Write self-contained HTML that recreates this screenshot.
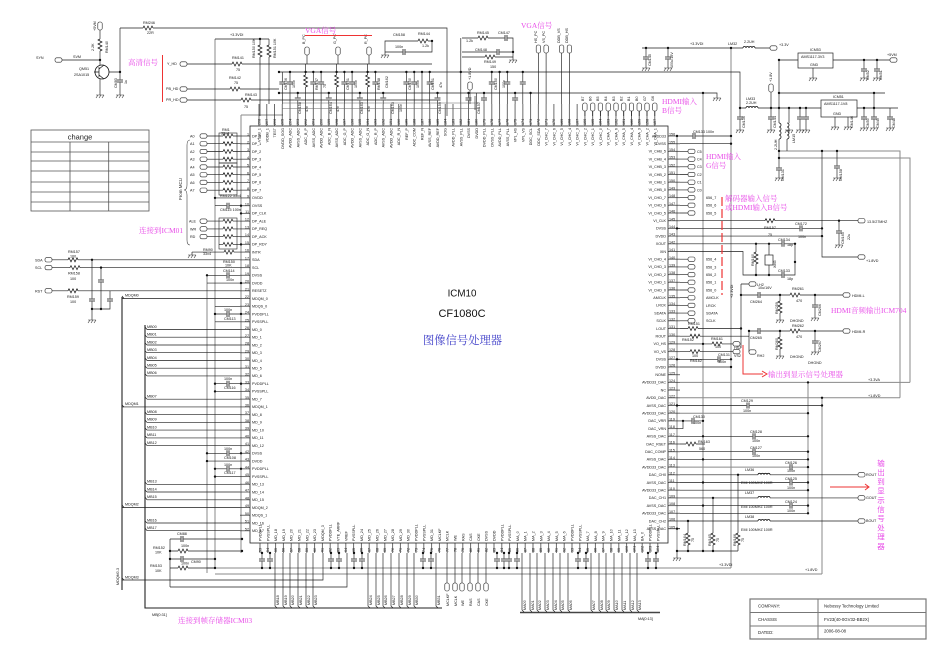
<!DOCTYPE html>
<html><head><meta charset="utf-8">
<style>
html,body{margin:0;padding:0;background:#fff;width:950px;height:665px;overflow:hidden}
svg{display:block}
text{font-family:"Liberation Sans","Noto Sans CJK SC",sans-serif}
.s{font-size:3.7px;fill:#151515}
.m{font-size:4.3px;fill:#222}
.pk{font-family:"Liberation Serif","Noto Serif CJK SC",serif;font-size:7.5px;fill:#e84ee8}
g.w{stroke:#1c1c1c;stroke-width:.65px}
</style></head><body>
<svg width="950" height="665" viewBox="0 0 950 665" xmlns="http://www.w3.org/2000/svg">
<defs>
<pattern id="pL" patternUnits="userSpaceOnUse" x="0" y="132.13" width="10" height="7.74"><path d="M0 3.87H10" stroke="#1c1c1c" stroke-width=".65"/></pattern>
<pattern id="pT" patternUnits="userSpaceOnUse" x="255.12" y="104" width="7.76" height="22"><path d="M3.88 0V22" stroke="#1c1c1c" stroke-width=".65"/></pattern>
<pattern id="pR" patternUnits="userSpaceOnUse" x="668" y="132.15" width="12" height="7.7"><path d="M0 3.85H12" stroke="#1c1c1c" stroke-width=".65"/></pattern>
<pattern id="pB" patternUnits="userSpaceOnUse" x="256.1" y="543" width="7.8" height="10"><path d="M3.9 0V10" stroke="#1c1c1c" stroke-width=".65"/></pattern>
<g id="rh"><rect x="0" y="-2.5" width="10" height="5" fill="#fff"/><path d="M0 0l1-2 2 4 2-4 2 4 2-4 1 2" fill="none" stroke="#111" stroke-width=".7"/></g>
<g id="rv"><rect x="-2.5" y="0" width="5" height="12" fill="#fff"/><path d="M0 0l-2 1 4 2-4 2 4 2-4 2 4 2-2 1" fill="none" stroke="#111" stroke-width=".7"/></g>
<g id="ch"><rect x="-.6" y="-3" width="3.2" height="6" fill="#fff"/><path d="M0-3v6M2-3v6" stroke="#111" stroke-width=".8"/></g>
<g id="cv"><rect x="-3" y="-.6" width="6" height="3.2" fill="#fff"/><path d="M-3 0h6M-3 2h6" stroke="#111" stroke-width=".8"/></g>
<g id="lh"><rect x="0" y="-3" width="12" height="4" fill="#fff"/><path d="M0 0a1.5 1.5 0 0 1 3 0a1.5 1.5 0 0 1 3 0a1.5 1.5 0 0 1 3 0a1.5 1.5 0 0 1 3 0" fill="none" stroke="#111" stroke-width=".8"/></g>
<g id="lv"><rect x="-1" y="0" width="4" height="16" fill="#fff"/><path d="M0 0a2 2 0 0 1 0 4a2 2 0 0 1 0 4a2 2 0 0 1 0 4a2 2 0 0 1 0 4" fill="none" stroke="#111" stroke-width=".8"/></g>
<path id="gd" d="M-4 0h8M-2 0l-2 3M1 0l-2 3M4 0l-2 3" fill="none" stroke="#333" stroke-width=".6"/>
<rect id="pt" x="0" y="-2.2" width="7" height="4.4" rx="1.8" fill="#fff" stroke="#222" stroke-width=".6"/>
<rect id="pu" x="-2.2" y="0" width="4.4" height="8" rx="1.8" fill="#fff" stroke="#222" stroke-width=".6"/>
<circle id="d" r="1.2" fill="#111"/>
</defs>

<!-- change table -->
<rect x="31" y="130" width="118" height="81" fill="none" stroke="#555" stroke-width=".8"/>
<path d="M31 142H149M31 152H149M31 161H149M31 171H149M31 182H149M31 192H149M31 202H149M70 142V211M108.7 142V211" stroke="#555" stroke-width=".8" fill="none"/>
<text x="80" y="139.5" text-anchor="middle" style="font-size:7.5px;fill:#222">change</text>

<!-- title block -->
<rect x="750" y="599" width="176" height="40" fill="none" stroke="#777" stroke-width="1.2"/>
<path d="M750 612.5H926M750 626H926M818 599V639" stroke="#777" stroke-width="1" fill="none"/>
<text class="m" x="758" y="607.5">COMPANY:</text>
<text class="m" x="824" y="607.5">Nebossy Technology Limited</text>
<text class="m" x="758" y="621">CHASSIS</text>
<text class="m" x="824" y="621">FV23(40-0GV32-BB2X)</text>
<text class="m" x="758" y="634">DATED:</text>
<text class="m" x="824" y="632.5">2006-08-08</text>

<!-- gray power lines -->
<g stroke="#8a8a8a" stroke-width="1" fill="none">
<path d="M215 39V568M207 275V573M241 115V553M241 115H283M207 568H731M215 574H822M677 136V551M703 93V551M731 48V568M779 151H900V397.8M779 158H910V382.4M680 382.4H910M680 397.8H900M808 382.4V513.3M822 397.8V574M680 413.2H808M680 467.1H808"/>
</g>

<!-- buses -->
<path d="M122 297V590M145 325V608H442" stroke="#222" stroke-width="1.1" fill="none"/>
<path d="M520 612.5H660" stroke="#444" stroke-width="1.4" fill="none"/>

<!-- chip -->
<rect x="250" y="126" width="418" height="417" fill="none" stroke="#222" stroke-width=".8"/>
<rect x="240" y="132.13" width="10" height="402.5" fill="url(#pL)"/>
<rect x="255.12" y="104" width="403.5" height="22" fill="url(#pT)"/>
<rect x="668" y="132.15" width="12" height="400.4" fill="url(#pR)"/>
<rect x="256.1" y="543" width="405.6" height="10" fill="url(#pB)"/>

<!-- main wires -->
<g class="w" stroke="#1c1c1c" stroke-width=".65" fill="none">
<path d="M62 60H100M100 30V65M109 72H120M100 79V95M120 28V95M120 28H447V116M187 64H432M187 89H279M187 100H440M215 39H269M260 39V116M269 39V104"/>
<path d="M207 136H240M207 143.7H240M207 151.5H240M207 159.2H240M207 167H240M207 174.7H240M207 182.4H240M207 190.2H240M215 197.9H240M215 205.7H240M207 221.1H240M207 228.9H240M207 236.6H240M219 244.4H240M192 252.1H240M192 252V255M52 259.8H240M52 267.6H240M207 275.3H240M207 283.1H240M52 290.8H240M122 298.5H240M215 306.3H240M215 314H240M215 321.8H240"/>
<path d="M92 259.8V309H110V290.8M101 267.6V309M92 309V320"/>
<path d="M147 329.5H240M147 337.2H240M147 345H240M147 352.7H240M147 360.5H240M147 368.2H240M147 375.9H240M215 383.7H240M215 391.4H240M147 399.2H240M122 406.9H240M147 414.6H240M147 422.4H240M147 430.1H240M147 437.9H240M147 445.6H240M207 453.3H240M207 461.1H240M215 468.8H240M215 476.6H240M147 484.3H240M147 492H240M147 499.8H240M122 507.5H240M147 523H240M147 530.7H240"/>
<path d="M145 327l2 2.5M145 335l2 2.2M145 343l2 2M145 351l2 1.7M145 358l2 2.5M145 366l2 2.2M145 374l2 1.9M145 397l2 2.2M145 412l2 2.6M145 420l2 2.4M145 428l2 2.1M145 436l2 1.9M145 443l2 2.6M145 482l2 2.3M145 490l2 2M145 497l2 2.8M145 521l2 2M145 528l2 2.7M122 296l2 2.5M122 405l2 2M122 505l2 2.5M122 578l2 2"/>
<path d="M170 539V587M170 539H242M170 551H242M170 559H215M170 568H215M170 587H347V553M122 580H323V553"/>
<!-- bottom pins -->
<path d="M262 553V568M270 553V568M331 553V568M339 553V568M354 553V568M362 553V568M423 553V568M431 553V568M497 553V568M504 553V568M509 553V568M517 553V568M578 553V568M586 553V568M648 553V568M656 553V568"/>
<path d="M275 553V606l2 2M283 553V606l2 2M290 553V606l2 2M298 553V606l2 2M306 553V606l2 2M313 553V606l2 2M368 553V606l2 2M376 553V606l2 2M383 553V606l2 2M391 553V606l2 2M399 553V606l2 2M407 553V606l2 2M414 553V606l2 2M436 553V606l2 2"/>
<path d="M447 553V583M455 553V583M462 553V583M470 553V583M478 553V583M486 553V583"/>
<path d="M522 553V610l2 2M530 553V610l2 2M537 553V610l2 2M545 553V610l2 2M553 553V610l2 2M560 553V610l2 2M568 553V610l2 2M591 553V610l2 2M599 553V610l2 2M606 553V610l2 2M614 553V610l2 2M622 553V610l2 2M630 553V610l2 2M637 553V610l2 2"/>
<!-- top network -->
<path d="M279 72H740V108M279 93H717V98M282.3 72V104M290 72V104M313.3 72V104M321.1 72V104M344.4 72V104M352.1 72V104M375.4 72V104M406.4 72V104M414.2 72V104M422 72V104M429.7 72V104M460.8 38V104M491.8 72V104M499.6 72V104M507.3 72V104M522.8 72V104M297.8 93V104M328.8 93V104M359.9 93V104M383.2 93V104M437.5 93V104M468.5 93V104M476.3 93V104M484 93V104M515.1 93V104M530.6 93V104"/>
<path d="M307 55V64M305.6 64V104M338 55V64M336.6 64V104M369 55V64M367.6 64V104M538.4 53V104M546.1 53V104M561.6 53V104M569.4 53V104"/>
<path d="M282 103H480M282 108.5H480" stroke="#666" stroke-width=".5"/>
<path d="M385 55V41H432V52H385M462 38H513V60M462 52H513M462 57H513"/>
<path d="M584.9 110V116M592.7 110V116M600.4 110V116M608.2 110V116M616 110V116M623.7 110V116M631.5 110V116M639.2 110V116M647 110V116M654.8 110V116"/>
<path d="M642 48H770M646 48V68M668 48V68"/>
<path d="M740 108H821M740 108V130M771 92V130M779 60V178M789 108V130M800 108V130M806 108V130M787 123V151"/>
<path d="M779 60H798M833 60H890M864 60V78M877 60V78M813 68V78M779 93H885M874 93V128M857 108H898M864 108V128M890 108V128M835 117V127M848 117V127"/>
<path d="M822 151V257H858M837 151V178M839 220.7V245"/>
<!-- right pins -->
<path d="M680 136H731M680 143.7H731M680 151.4H688M680 159.1H688M680 166.8H688M680 174.5H688M680 182.2H688M680 189.9H688M680 197.6H688M680 205.3H688M680 213H688M680 220.7H858M677 228.4H822M680 236.1H822M680 243.8H795M680 251.5H743V275H795V243.8M756 243.8V275M769 243.8V255M769 265V275"/>
<path d="M680 259.2H688M680 266.9H688M680 274.6H688M680 282.3H688M680 290H688M680 297.7H688M680 305.4H688M680 313.1H688M680 320.8H688M680 328.5H741M680 336.2H749M680 343.9H733M680 351.6H733M677 359.3H731M680 367H731"/>
<path d="M741 284H749M741 284V348M749 331V352M741 295H843M780 295V320M815 295V318M749 331H843M780 331V356M815 331V352"/>
<path d="M677 405.5H822M680 420.9H703M680 428.6H683V420.9M680 436.3H808M680 444H705M680 451.7H808M680 459.4H808M680 474.8H858M680 482.5H808M680 490.2H808M680 497.9H858M680 505.6H808M680 513.3H808M680 521H858M677 528.7H680"/>
<path d="M688 521V551M713 497.9V551M738 474.8V551M677 551H738M677 551V558"/>
</g>

<!-- transistor -->
<circle cx="102" cy="72" r="7" fill="#fff" stroke="#111" stroke-width=".8"/>
<path d="M99 67V77M99 72H94M99 69l5-4M99 75l5 4" stroke="#111" stroke-width=".7" fill="none"/>

<!-- resistor arrays -->
<g fill="none" stroke="#222" stroke-width=".6">
<rect x="219" y="133" width="18" height="30"/><rect x="219" y="163" width="18" height="32"/><rect x="219" y="218" width="18" height="31"/>
</g>
<g>
<use href="#rh" x="223" y="136"/><use href="#rh" x="223" y="143.7"/><use href="#rh" x="223" y="151.5"/><use href="#rh" x="223" y="159.2"/><use href="#rh" x="223" y="167"/><use href="#rh" x="223" y="174.7"/><use href="#rh" x="223" y="182.4"/><use href="#rh" x="223" y="190.2"/>
<use href="#rh" x="223" y="221.1"/><use href="#rh" x="223" y="228.9"/><use href="#rh" x="223" y="236.6"/><use href="#rh" x="223" y="244.4"/>
<use href="#rh" x="224" y="252.1"/><use href="#rh" x="68" y="259.8"/><use href="#rh" x="70" y="267.6"/><use href="#rh" x="68" y="290.8"/>
<use href="#rh" x="143" y="28"/><use href="#rh" x="232" y="64"/><use href="#rh" x="230" y="89"/><use href="#rh" x="241" y="100"/>
<use href="#rh" x="178" y="551"/><use href="#rh" x="178" y="568"/>
<use href="#rh" x="418" y="41"/><use href="#rh" x="478" y="38"/><use href="#rh" x="485" y="57"/>
<use href="#rh" x="765" y="220.7"/><use href="#rh" x="688" y="328.5"/><use href="#rh" x="690" y="336.2"/><use href="#rh" x="712" y="343.9"/><use href="#rh" x="690" y="351.6"/><use href="#rh" x="686" y="444"/>
<use href="#rh" x="790" y="295"/><use href="#rh" x="790" y="331"/>
<use href="#rv" x="100" y="39"/><use href="#rv" x="260" y="45"/><use href="#rv" x="269" y="45"/>
<use href="#rv" x="305.6" y="75"/><use href="#rv" x="336.6" y="75"/><use href="#rv" x="367.6" y="75"/>
<use href="#rv" x="756" y="252"/><use href="#rv" x="780" y="301"/><use href="#rv" x="780" y="337"/>
<use href="#rv" x="688" y="533"/><use href="#rv" x="713" y="533"/><use href="#rv" x="738" y="533"/>
<use href="#ch" x="227" y="205.7"/><use href="#ch" x="227" y="275.3"/><use href="#ch" x="227" y="314"/><use href="#ch" x="227" y="383.7"/><use href="#ch" x="227" y="453.3"/><use href="#ch" x="227" y="468.8"/>
<use href="#ch" x="181" y="539"/><use href="#ch" x="181" y="559"/>
<use href="#ch" x="403" y="52"/><use href="#ch" x="505" y="38"/><use href="#ch" x="497" y="52"/>
<use href="#ch" x="693" y="136"/><use href="#ch" x="800" y="228.4"/><use href="#ch" x="782" y="243.8"/><use href="#ch" x="782" y="275"/>
<use href="#ch" x="718" y="359.3"/><use href="#ch" x="747" y="405.5"/><use href="#ch" x="692" y="420.9"/><use href="#ch" x="753" y="436.3"/><use href="#ch" x="753" y="451.7"/><use href="#ch" x="790" y="467.1"/><use href="#ch" x="790" y="482.5"/><use href="#ch" x="790" y="505.6"/>
<use href="#ch" x="758" y="295"/><use href="#ch" x="758" y="331"/>
<use href="#cv" x="120" y="80"/><use href="#cv" x="92" y="299"/><use href="#cv" x="101" y="280"/><use href="#cv" x="110" y="299"/>
<use href="#cv" x="282.3" y="82"/><use href="#cv" x="290" y="82"/><use href="#cv" x="313.3" y="82"/><use href="#cv" x="321.1" y="82"/><use href="#cv" x="344.4" y="82"/><use href="#cv" x="352.1" y="82"/><use href="#cv" x="375.4" y="82"/><use href="#cv" x="406.4" y="82"/><use href="#cv" x="414.2" y="82"/><use href="#cv" x="429.7" y="82"/><use href="#cv" x="491.8" y="82"/><use href="#cv" x="507.3" y="82"/><use href="#cv" x="522.8" y="82"/>
<use href="#cv" x="297.8" y="98"/><use href="#cv" x="328.8" y="98"/><use href="#cv" x="359.9" y="98"/><use href="#cv" x="383.2" y="98"/><use href="#cv" x="437.5" y="98"/><use href="#cv" x="468.5" y="98"/><use href="#cv" x="484" y="98"/><use href="#cv" x="515.1" y="98"/>
<use href="#cv" x="646" y="57"/><use href="#cv" x="668" y="57"/>
<use href="#cv" x="740" y="117"/><use href="#cv" x="771" y="117"/><use href="#cv" x="800" y="117"/><use href="#cv" x="806" y="117"/>
<use href="#cv" x="864" y="69"/><use href="#cv" x="877" y="69"/><use href="#cv" x="864" y="117"/><use href="#cv" x="874" y="117"/><use href="#cv" x="890" y="117"/>
<use href="#cv" x="779" y="168"/><use href="#cv" x="837" y="166"/><use href="#cv" x="839" y="231"/><use href="#cv" x="815" y="305"/><use href="#cv" x="815" y="341"/>
<use href="#cv" x="262" y="559"/><use href="#cv" x="270" y="559"/><use href="#cv" x="331" y="559"/><use href="#cv" x="339" y="559"/><use href="#cv" x="354" y="559"/><use href="#cv" x="362" y="559"/><use href="#cv" x="423" y="559"/><use href="#cv" x="431" y="559"/><use href="#cv" x="497" y="559"/><use href="#cv" x="504" y="559"/><use href="#cv" x="509" y="559"/><use href="#cv" x="517" y="559"/><use href="#cv" x="578" y="559"/><use href="#cv" x="586" y="559"/><use href="#cv" x="648" y="559"/><use href="#cv" x="656" y="559"/>
<use href="#lh" x="743" y="48"/><use href="#lh" x="746" y="108"/><use href="#lh" x="758" y="474.8"/><use href="#lh" x="758" y="497.9"/><use href="#lh" x="758" y="521"/>
<use href="#lv" x="779" y="123"/><use href="#lv" x="787" y="123"/>
<use href="#gd" x="100" y="95"/><use href="#gd" x="120" y="95"/><use href="#gd" x="192" y="255"/><use href="#gd" x="92" y="320"/><use href="#gd" x="385" y="55"/><use href="#gd" x="513" y="60"/><use href="#gd" x="717" y="98"/>
<use href="#gd" x="646" y="68"/><use href="#gd" x="668" y="68"/><use href="#gd" x="740" y="130"/><use href="#gd" x="771" y="130"/><use href="#gd" x="789" y="130"/><use href="#gd" x="800" y="130"/><use href="#gd" x="806" y="130"/>
<use href="#gd" x="864" y="78"/><use href="#gd" x="877" y="78"/><use href="#gd" x="813" y="78"/><use href="#gd" x="864" y="128"/><use href="#gd" x="874" y="128"/><use href="#gd" x="890" y="128"/><use href="#gd" x="835" y="127"/><use href="#gd" x="848" y="127"/>
<use href="#gd" x="779" y="178"/><use href="#gd" x="837" y="178"/><use href="#gd" x="839" y="245"/><use href="#gd" x="780" y="320"/><use href="#gd" x="815" y="318"/><use href="#gd" x="780" y="356"/><use href="#gd" x="815" y="352"/><use href="#gd" x="677" y="558"/>
<use href="#pt" x="55" y="60"/><use href="#pt" x="180" y="64"/><use href="#pt" x="180" y="89"/><use href="#pt" x="180" y="100"/>
<use href="#pt" x="200" y="136"/><use href="#pt" x="200" y="143.7"/><use href="#pt" x="200" y="151.5"/><use href="#pt" x="200" y="159.2"/><use href="#pt" x="200" y="167"/><use href="#pt" x="200" y="174.7"/><use href="#pt" x="200" y="182.4"/><use href="#pt" x="200" y="190.2"/>
<use href="#pt" x="200" y="221.1"/><use href="#pt" x="200" y="228.9"/><use href="#pt" x="200" y="236.6"/>
<use href="#pt" x="45" y="259.8"/><use href="#pt" x="45" y="267.6"/><use href="#pt" x="45" y="290.8"/>
<use href="#pt" x="688" y="151.4"/><use href="#pt" x="688" y="159.1"/><use href="#pt" x="688" y="166.8"/><use href="#pt" x="688" y="174.5"/><use href="#pt" x="688" y="182.2"/><use href="#pt" x="688" y="189.9"/><use href="#pt" x="688" y="197.6"/><use href="#pt" x="688" y="205.3"/><use href="#pt" x="688" y="213"/>
<use href="#pt" x="688" y="259.2"/><use href="#pt" x="688" y="266.9"/><use href="#pt" x="688" y="274.6"/><use href="#pt" x="688" y="282.3"/><use href="#pt" x="688" y="290"/><use href="#pt" x="688" y="297.7"/><use href="#pt" x="688" y="305.4"/><use href="#pt" x="688" y="313.1"/><use href="#pt" x="688" y="320.8"/>
<use href="#pt" x="858" y="220.7"/><use href="#pt" x="858" y="257"/><use href="#pt" x="749" y="284"/><use href="#pt" x="733" y="343.9"/><use href="#pt" x="733" y="351.6"/><use href="#pt" x="843" y="295"/><use href="#pt" x="843" y="331"/><use href="#pt" x="749" y="352"/>
<use href="#pt" x="858" y="474.8"/><use href="#pt" x="858" y="497.9"/><use href="#pt" x="858" y="521"/><use href="#pt" x="770" y="48"/><use href="#pt" x="890" y="60"/>
<use href="#pu" x="100" y="22"/><use href="#pu" x="307" y="47"/><use href="#pu" x="338" y="47"/><use href="#pu" x="369" y="47"/><use href="#pu" x="538.4" y="45"/><use href="#pu" x="546.1" y="45"/><use href="#pu" x="561.6" y="45"/><use href="#pu" x="569.4" y="45"/><use href="#pu" x="470" y="82"/><use href="#pu" x="771" y="84"/>
<use href="#pu" x="584.9" y="103"/><use href="#pu" x="592.7" y="103"/><use href="#pu" x="600.4" y="103"/><use href="#pu" x="608.2" y="103"/><use href="#pu" x="616" y="103"/><use href="#pu" x="623.7" y="103"/><use href="#pu" x="631.5" y="103"/><use href="#pu" x="639.2" y="103"/><use href="#pu" x="647" y="103"/><use href="#pu" x="654.8" y="103"/>
<use href="#pu" x="447" y="583"/><use href="#pu" x="455" y="583"/><use href="#pu" x="462" y="583"/><use href="#pu" x="470" y="583"/><use href="#pu" x="478" y="583"/><use href="#pu" x="486" y="583"/>
</g>
<path d="M470 90V104M475 96V110" stroke="#222" stroke-width=".6"/>

<!-- regulators and crystal -->
<g fill="#fff" stroke="#222" stroke-width=".7">
<rect x="798" y="53" width="35" height="15"/><rect x="821" y="100" width="36" height="17"/><rect x="765" y="255" width="8" height="10"/>
</g>
<text class="s" x="801" y="58">AMS1117-3V3</text><text class="s" x="810" y="51">ICM53</text><text class="s" x="810" y="66">GND</text>
<text class="s" x="824" y="105">AMS1117-1V8</text><text class="s" x="833" y="98">ICM51</text><text class="s" x="833" y="115">GND</text>

<!-- dots -->
<g>
<use href="#d" x="100" y="60"/><use href="#d" x="120" y="72"/><use href="#d" x="260" y="39"/><use href="#d" x="215" y="197.9"/><use href="#d" x="241" y="205.7"/><use href="#d" x="241" y="213.4"/><use href="#d" x="241" y="244.4"/><use href="#d" x="92" y="259.8"/><use href="#d" x="101" y="267.6"/><use href="#d" x="92" y="309"/><use href="#d" x="101" y="309"/>
<use href="#d" x="207" y="275.3"/><use href="#d" x="241" y="283.1"/><use href="#d" x="215" y="314"/><use href="#d" x="241" y="314"/><use href="#d" x="215" y="383.7"/><use href="#d" x="241" y="383.7"/><use href="#d" x="215" y="391.4"/><use href="#d" x="207" y="453.3"/><use href="#d" x="241" y="453.3"/><use href="#d" x="207" y="461.1"/><use href="#d" x="215" y="468.8"/><use href="#d" x="241" y="468.8"/><use href="#d" x="215" y="476.6"/>
<use href="#d" x="242" y="539"/><use href="#d" x="170" y="551"/><use href="#d" x="242" y="551"/><use href="#d" x="170" y="559"/><use href="#d" x="215" y="559"/><use href="#d" x="215" y="568"/>
<use href="#d" x="279" y="72"/><use href="#d" x="290" y="72"/><use href="#d" x="305.6" y="72"/><use href="#d" x="313.3" y="72"/><use href="#d" x="321.1" y="72"/><use href="#d" x="336.6" y="72"/><use href="#d" x="344.4" y="72"/><use href="#d" x="352.1" y="72"/><use href="#d" x="367.6" y="72"/><use href="#d" x="375.4" y="72"/><use href="#d" x="406.4" y="72"/><use href="#d" x="414.2" y="72"/><use href="#d" x="422" y="72"/><use href="#d" x="429.7" y="72"/><use href="#d" x="460.8" y="72"/><use href="#d" x="491.8" y="72"/><use href="#d" x="499.6" y="72"/><use href="#d" x="507.3" y="72"/><use href="#d" x="522.8" y="72"/><use href="#d" x="432" y="41"/><use href="#d" x="513" y="52"/>
<use href="#d" x="279" y="93"/><use href="#d" x="297.8" y="93"/><use href="#d" x="328.8" y="93"/><use href="#d" x="359.9" y="93"/><use href="#d" x="383.2" y="93"/><use href="#d" x="437.5" y="93"/><use href="#d" x="468.5" y="93"/><use href="#d" x="484" y="93"/><use href="#d" x="515.1" y="93"/><use href="#d" x="530.6" y="93"/><use href="#d" x="703" y="93"/>
<use href="#d" x="731" y="48"/><use href="#d" x="646" y="48"/><use href="#d" x="668" y="48"/><use href="#d" x="740" y="108"/><use href="#d" x="771" y="108"/><use href="#d" x="779" y="108"/><use href="#d" x="789" y="108"/><use href="#d" x="800" y="108"/><use href="#d" x="806" y="108"/><use href="#d" x="779" y="60"/><use href="#d" x="864" y="60"/><use href="#d" x="877" y="60"/><use href="#d" x="779" y="93"/><use href="#d" x="874" y="93"/><use href="#d" x="864" y="108"/><use href="#d" x="874" y="108"/>
<use href="#d" x="779" y="151"/><use href="#d" x="779" y="158"/><use href="#d" x="822" y="151"/><use href="#d" x="837" y="151"/>
<use href="#d" x="677" y="136"/><use href="#d" x="731" y="136"/><use href="#d" x="731" y="143.7"/><use href="#d" x="839" y="220.7"/><use href="#d" x="677" y="228.4"/><use href="#d" x="822" y="228.4"/><use href="#d" x="822" y="236.1"/><use href="#d" x="756" y="243.8"/><use href="#d" x="769" y="243.8"/><use href="#d" x="795" y="243.8"/><use href="#d" x="756" y="275"/><use href="#d" x="769" y="275"/><use href="#d" x="795" y="262"/>
<use href="#d" x="741" y="295"/><use href="#d" x="780" y="295"/><use href="#d" x="815" y="295"/><use href="#d" x="749" y="331"/><use href="#d" x="780" y="331"/><use href="#d" x="815" y="331"/><use href="#d" x="741" y="328.5"/><use href="#d" x="703" y="343.9"/><use href="#d" x="677" y="359.3"/><use href="#d" x="731" y="359.3"/><use href="#d" x="731" y="367"/>
<use href="#d" x="808" y="382.4"/><use href="#d" x="822" y="397.8"/><use href="#d" x="677" y="405.5"/><use href="#d" x="822" y="405.5"/><use href="#d" x="808" y="413.2"/><use href="#d" x="683" y="420.9"/><use href="#d" x="703" y="420.9"/><use href="#d" x="703" y="436.3"/><use href="#d" x="808" y="436.3"/><use href="#d" x="808" y="451.7"/><use href="#d" x="703" y="459.4"/><use href="#d" x="808" y="459.4"/><use href="#d" x="808" y="467.1"/><use href="#d" x="738" y="474.8"/><use href="#d" x="703" y="482.5"/><use href="#d" x="808" y="482.5"/><use href="#d" x="808" y="490.2"/><use href="#d" x="713" y="497.9"/><use href="#d" x="703" y="505.6"/><use href="#d" x="808" y="505.6"/><use href="#d" x="808" y="513.3"/><use href="#d" x="688" y="521"/><use href="#d" x="677" y="528.7"/>
<use href="#d" x="677" y="551"/><use href="#d" x="688" y="551"/><use href="#d" x="703" y="551"/><use href="#d" x="713" y="551"/>
<use href="#d" x="262" y="553"/><use href="#d" x="270" y="553"/><use href="#d" x="262" y="568"/><use href="#d" x="270" y="568"/><use href="#d" x="331" y="553"/><use href="#d" x="339" y="553"/><use href="#d" x="331" y="568"/><use href="#d" x="339" y="568"/><use href="#d" x="354" y="553"/><use href="#d" x="362" y="553"/><use href="#d" x="354" y="568"/><use href="#d" x="362" y="568"/><use href="#d" x="423" y="553"/><use href="#d" x="431" y="553"/><use href="#d" x="423" y="568"/><use href="#d" x="431" y="568"/><use href="#d" x="497" y="553"/><use href="#d" x="504" y="553"/><use href="#d" x="497" y="568"/><use href="#d" x="504" y="568"/><use href="#d" x="509" y="553"/><use href="#d" x="517" y="553"/><use href="#d" x="509" y="568"/><use href="#d" x="517" y="568"/><use href="#d" x="578" y="553"/><use href="#d" x="586" y="553"/><use href="#d" x="578" y="568"/><use href="#d" x="586" y="568"/><use href="#d" x="648" y="553"/><use href="#d" x="656" y="553"/><use href="#d" x="648" y="568"/><use href="#d" x="656" y="568"/>
</g>

<!-- pin numbers left -->
<text class="s" text-anchor="end"><tspan x="249" y="135.6">1</tspan><tspan x="249" dy="7.74">2</tspan><tspan x="249" dy="7.74">3</tspan><tspan x="249" dy="7.74">4</tspan><tspan x="249" dy="7.74">5</tspan><tspan x="249" dy="7.74">6</tspan><tspan x="249" dy="7.74">7</tspan><tspan x="249" dy="7.74">8</tspan><tspan x="249" dy="7.74">9</tspan><tspan x="249" dy="7.74">10</tspan><tspan x="249" dy="7.74">11</tspan><tspan x="249" dy="7.74">12</tspan><tspan x="249" dy="7.74">13</tspan><tspan x="249" dy="7.74">14</tspan><tspan x="249" dy="7.74">15</tspan><tspan x="249" dy="7.74">16</tspan><tspan x="249" dy="7.74">17</tspan><tspan x="249" dy="7.74">18</tspan><tspan x="249" dy="7.74">19</tspan><tspan x="249" dy="7.74">20</tspan><tspan x="249" dy="7.74">21</tspan><tspan x="249" dy="7.74">22</tspan><tspan x="249" dy="7.74">23</tspan><tspan x="249" dy="7.74">24</tspan><tspan x="249" dy="7.74">25</tspan><tspan x="249" dy="7.74">26</tspan><tspan x="249" dy="7.74">27</tspan><tspan x="249" dy="7.74">28</tspan><tspan x="249" dy="7.74">29</tspan><tspan x="249" dy="7.74">30</tspan><tspan x="249" dy="7.74">31</tspan><tspan x="249" dy="7.74">32</tspan><tspan x="249" dy="7.74">33</tspan><tspan x="249" dy="7.74">34</tspan><tspan x="249" dy="7.74">35</tspan><tspan x="249" dy="7.74">36</tspan><tspan x="249" dy="7.74">37</tspan><tspan x="249" dy="7.74">38</tspan><tspan x="249" dy="7.74">39</tspan><tspan x="249" dy="7.74">40</tspan><tspan x="249" dy="7.74">41</tspan><tspan x="249" dy="7.74">42</tspan><tspan x="249" dy="7.74">43</tspan><tspan x="249" dy="7.74">44</tspan><tspan x="249" dy="7.74">45</tspan><tspan x="249" dy="7.74">46</tspan><tspan x="249" dy="7.74">47</tspan><tspan x="249" dy="7.74">48</tspan><tspan x="249" dy="7.74">49</tspan><tspan x="249" dy="7.74">50</tspan><tspan x="249" dy="7.74">51</tspan><tspan x="249" dy="7.74">52</tspan></text>
<!-- left labels -->
<text class="s"><tspan x="252" y="137.3">DP_0</tspan><tspan x="252" dy="7.74">DP_1</tspan><tspan x="252" dy="7.74">DP_2</tspan><tspan x="252" dy="7.74">DP_3</tspan><tspan x="252" dy="7.74">DP_4</tspan><tspan x="252" dy="7.74">DP_5</tspan><tspan x="252" dy="7.74">DP_6</tspan><tspan x="252" dy="7.74">DP_7</tspan><tspan x="252" dy="7.74">OVDD</tspan><tspan x="252" dy="7.74">OVSS</tspan><tspan x="252" dy="7.74">DP_CLK</tspan><tspan x="252" dy="7.74">DP_ALE</tspan><tspan x="252" dy="7.74">DP_REQ</tspan><tspan x="252" dy="7.74">DP_ACK</tspan><tspan x="252" dy="7.74">DP_RDY</tspan><tspan x="252" dy="7.74">INTR</tspan><tspan x="252" dy="7.74">SDA</tspan><tspan x="252" dy="7.74">SCL</tspan><tspan x="252" dy="7.74">DVSS</tspan><tspan x="252" dy="7.74">DVDD</tspan><tspan x="252" dy="7.74">RESETZ</tspan><tspan x="252" dy="7.74">MDQM_0</tspan><tspan x="252" dy="7.74">MDQS_0</tspan><tspan x="252" dy="7.74">PVDDPLL</tspan><tspan x="252" dy="7.74">PVSSPLL</tspan><tspan x="252" dy="7.74">MD_0</tspan><tspan x="252" dy="7.74">MD_1</tspan><tspan x="252" dy="7.74">MD_2</tspan><tspan x="252" dy="7.74">MD_3</tspan><tspan x="252" dy="7.74">MD_4</tspan><tspan x="252" dy="7.74">MD_5</tspan><tspan x="252" dy="7.74">MD_6</tspan><tspan x="252" dy="7.74">PVDDPLL</tspan><tspan x="252" dy="7.74">PVSSPLL</tspan><tspan x="252" dy="7.74">MD_7</tspan><tspan x="252" dy="7.74">MDQM_1</tspan><tspan x="252" dy="7.74">MD_8</tspan><tspan x="252" dy="7.74">MD_9</tspan><tspan x="252" dy="7.74">MD_10</tspan><tspan x="252" dy="7.74">MD_11</tspan><tspan x="252" dy="7.74">MD_12</tspan><tspan x="252" dy="7.74">DVSS</tspan><tspan x="252" dy="7.74">DVDD</tspan><tspan x="252" dy="7.74">PVDDPLL</tspan><tspan x="252" dy="7.74">PVSSPLL</tspan><tspan x="252" dy="7.74">MD_13</tspan><tspan x="252" dy="7.74">MD_14</tspan><tspan x="252" dy="7.74">MD_15</tspan><tspan x="252" dy="7.74">MDQM_2</tspan><tspan x="252" dy="7.74">MDQS_1</tspan><tspan x="252" dy="7.74">MD_16</tspan><tspan x="252" dy="7.74">MD_17</tspan></text>

<!-- right pin numbers -->
<text class="s"><tspan x="669" y="135.6">156</tspan><tspan x="669" dy="7.7">155</tspan><tspan x="669" dy="7.7">154</tspan><tspan x="669" dy="7.7">153</tspan><tspan x="669" dy="7.7">152</tspan><tspan x="669" dy="7.7">151</tspan><tspan x="669" dy="7.7">150</tspan><tspan x="669" dy="7.7">149</tspan><tspan x="669" dy="7.7">148</tspan><tspan x="669" dy="7.7">147</tspan><tspan x="669" dy="7.7">146</tspan><tspan x="669" dy="7.7">145</tspan><tspan x="669" dy="7.7">144</tspan><tspan x="669" dy="7.7">143</tspan><tspan x="669" dy="7.7">142</tspan><tspan x="669" dy="7.7">141</tspan><tspan x="669" dy="7.7">140</tspan><tspan x="669" dy="7.7">139</tspan><tspan x="669" dy="7.7">138</tspan><tspan x="669" dy="7.7">137</tspan><tspan x="669" dy="7.7">136</tspan><tspan x="669" dy="7.7">135</tspan><tspan x="669" dy="7.7">134</tspan><tspan x="669" dy="7.7">133</tspan><tspan x="669" dy="7.7">132</tspan><tspan x="669" dy="7.7">131</tspan><tspan x="669" dy="7.7">130</tspan><tspan x="669" dy="7.7">129</tspan><tspan x="669" dy="7.7">128</tspan><tspan x="669" dy="7.7">127</tspan><tspan x="669" dy="7.7">126</tspan><tspan x="669" dy="7.7">125</tspan><tspan x="669" dy="7.7">124</tspan><tspan x="669" dy="7.7">123</tspan><tspan x="669" dy="7.7">122</tspan><tspan x="669" dy="7.7">121</tspan><tspan x="669" dy="7.7">120</tspan><tspan x="669" dy="7.7">119</tspan><tspan x="669" dy="7.7">118</tspan><tspan x="669" dy="7.7">117</tspan><tspan x="669" dy="7.7">116</tspan><tspan x="669" dy="7.7">115</tspan><tspan x="669" dy="7.7">114</tspan><tspan x="669" dy="7.7">113</tspan><tspan x="669" dy="7.7">112</tspan><tspan x="669" dy="7.7">111</tspan><tspan x="669" dy="7.7">110</tspan><tspan x="669" dy="7.7">109</tspan><tspan x="669" dy="7.7">108</tspan><tspan x="669" dy="7.7">107</tspan><tspan x="669" dy="7.7">106</tspan><tspan x="669" dy="7.7">105</tspan></text>
<!-- right labels -->
<text class="s" text-anchor="end"><tspan x="666" y="137.3">AVDD33</tspan><tspan x="666" dy="7.7">DVSS</tspan><tspan x="666" dy="7.7">VI_CHB_5</tspan><tspan x="666" dy="7.7">VI_CHB_4</tspan><tspan x="666" dy="7.7">VI_CHB_3</tspan><tspan x="666" dy="7.7">VI_CHB_2</tspan><tspan x="666" dy="7.7">VI_CHB_1</tspan><tspan x="666" dy="7.7">VI_CHB_0</tspan><tspan x="666" dy="7.7">VI_CHD_7</tspan><tspan x="666" dy="7.7">VI_CHD_6</tspan><tspan x="666" dy="7.7">VI_CHD_5</tspan><tspan x="666" dy="7.7">VI_CLK</tspan><tspan x="666" dy="7.7">DVSS</tspan><tspan x="666" dy="7.7">DVDD</tspan><tspan x="666" dy="7.7">XOUT</tspan><tspan x="666" dy="7.7">XIN</tspan><tspan x="666" dy="7.7">VI_CHD_4</tspan><tspan x="666" dy="7.7">VI_CHD_3</tspan><tspan x="666" dy="7.7">VI_CHD_2</tspan><tspan x="666" dy="7.7">VI_CHD_1</tspan><tspan x="666" dy="7.7">VI_CHD_0</tspan><tspan x="666" dy="7.7">AMCLK</tspan><tspan x="666" dy="7.7">LRCK</tspan><tspan x="666" dy="7.7">SDATA</tspan><tspan x="666" dy="7.7">SCLK</tspan><tspan x="666" dy="7.7">LOUT</tspan><tspan x="666" dy="7.7">ROUT</tspan><tspan x="666" dy="7.7">VO_HS</tspan><tspan x="666" dy="7.7">VO_VS</tspan><tspan x="666" dy="7.7">DVSS</tspan><tspan x="666" dy="7.7">DVDD</tspan><tspan x="666" dy="7.7">NONE</tspan><tspan x="666" dy="7.7">AVDD33_DAC</tspan><tspan x="666" dy="7.7">NC</tspan><tspan x="666" dy="7.7">AVDD_DAC</tspan><tspan x="666" dy="7.7">AVSS_DAC</tspan><tspan x="666" dy="7.7">AVDD33_DAC</tspan><tspan x="666" dy="7.7">DAC_VRR</tspan><tspan x="666" dy="7.7">DAC_VRN</tspan><tspan x="666" dy="7.7">AVSS_DAC</tspan><tspan x="666" dy="7.7">DAC_RSET</tspan><tspan x="666" dy="7.7">DAC_COMP</tspan><tspan x="666" dy="7.7">AVSS_DAC</tspan><tspan x="666" dy="7.7">AVDD33_DAC</tspan><tspan x="666" dy="7.7">DAC_CH0</tspan><tspan x="666" dy="7.7">AVSS_DAC</tspan><tspan x="666" dy="7.7">AVDD33_DAC</tspan><tspan x="666" dy="7.7">DAC_CH1</tspan><tspan x="666" dy="7.7">AVSS_DAC</tspan><tspan x="666" dy="7.7">AVDD33_DAC</tspan><tspan x="666" dy="7.7">DAC_CH2</tspan><tspan x="666" dy="7.7">AVSS_DAC</tspan></text>

<!-- top numbers (rotated) -->
<text class="s" transform="rotate(-90)"><tspan x="-125" y="260.3">208</tspan><tspan x="-125" dy="7.76">207</tspan><tspan x="-125" dy="7.76">206</tspan><tspan x="-125" dy="7.76">205</tspan><tspan x="-125" dy="7.76">204</tspan><tspan x="-125" dy="7.76">203</tspan><tspan x="-125" dy="7.76">202</tspan><tspan x="-125" dy="7.76">201</tspan><tspan x="-125" dy="7.76">200</tspan><tspan x="-125" dy="7.76">199</tspan><tspan x="-125" dy="7.76">198</tspan><tspan x="-125" dy="7.76">197</tspan><tspan x="-125" dy="7.76">196</tspan><tspan x="-125" dy="7.76">195</tspan><tspan x="-125" dy="7.76">194</tspan><tspan x="-125" dy="7.76">193</tspan><tspan x="-125" dy="7.76">192</tspan><tspan x="-125" dy="7.76">191</tspan><tspan x="-125" dy="7.76">190</tspan><tspan x="-125" dy="7.76">189</tspan><tspan x="-125" dy="7.76">188</tspan><tspan x="-125" dy="7.76">187</tspan><tspan x="-125" dy="7.76">186</tspan><tspan x="-125" dy="7.76">185</tspan><tspan x="-125" dy="7.76">184</tspan><tspan x="-125" dy="7.76">183</tspan><tspan x="-125" dy="7.76">182</tspan><tspan x="-125" dy="7.76">181</tspan><tspan x="-125" dy="7.76">180</tspan><tspan x="-125" dy="7.76">179</tspan><tspan x="-125" dy="7.76">178</tspan><tspan x="-125" dy="7.76">177</tspan><tspan x="-125" dy="7.76">176</tspan><tspan x="-125" dy="7.76">175</tspan><tspan x="-125" dy="7.76">174</tspan><tspan x="-125" dy="7.76">173</tspan><tspan x="-125" dy="7.76">172</tspan><tspan x="-125" dy="7.76">171</tspan><tspan x="-125" dy="7.76">170</tspan><tspan x="-125" dy="7.76">169</tspan><tspan x="-125" dy="7.76">168</tspan><tspan x="-125" dy="7.76">167</tspan><tspan x="-125" dy="7.76">166</tspan><tspan x="-125" dy="7.76">165</tspan><tspan x="-125" dy="7.76">164</tspan><tspan x="-125" dy="7.76">163</tspan><tspan x="-125" dy="7.76">162</tspan><tspan x="-125" dy="7.76">161</tspan><tspan x="-125" dy="7.76">160</tspan><tspan x="-125" dy="7.76">159</tspan><tspan x="-125" dy="7.76">158</tspan><tspan x="-125" dy="7.76">157</tspan></text>
<!-- top labels -->
<text class="s" transform="rotate(-90)" text-anchor="end"><tspan x="-128" y="260.5">VSSB_1</tspan><tspan x="-128" dy="7.76">VDDB_1</tspan><tspan x="-128" dy="7.76">TEST</tspan><tspan x="-128" dy="7.76">DVDD_SOG</tspan><tspan x="-128" dy="7.76">AVDD_ADC</tspan><tspan x="-128" dy="7.76">AVSS_ADC</tspan><tspan x="-128" dy="7.76">ADC_B_P</tspan><tspan x="-128" dy="7.76">AVSS_ADC</tspan><tspan x="-128" dy="7.76">AVDD_ADC</tspan><tspan x="-128" dy="7.76">ADC_B_N</tspan><tspan x="-128" dy="7.76">AVSS_ADC</tspan><tspan x="-128" dy="7.76">ADC_G_P</tspan><tspan x="-128" dy="7.76">AVDD_ADC</tspan><tspan x="-128" dy="7.76">AVSS_ADC</tspan><tspan x="-128" dy="7.76">ADC_G_N</tspan><tspan x="-128" dy="7.76">ADC_R_P</tspan><tspan x="-128" dy="7.76">AVSS_ADC</tspan><tspan x="-128" dy="7.76">AVDD_ADC</tspan><tspan x="-128" dy="7.76">ADC_R_N</tspan><tspan x="-128" dy="7.76">REF_P</tspan><tspan x="-128" dy="7.76">ADC_COM</tspan><tspan x="-128" dy="7.76">REF_N</tspan><tspan x="-128" dy="7.76">AVSS_REF</tspan><tspan x="-128" dy="7.76">AVDD_REF</tspan><tspan x="-128" dy="7.76">SOG</tspan><tspan x="-128" dy="7.76">AVDD_PLL</tspan><tspan x="-128" dy="7.76">AVSS_PLL</tspan><tspan x="-128" dy="7.76">DVSS</tspan><tspan x="-128" dy="7.76">DVDD</tspan><tspan x="-128" dy="7.76">DVDD_PLL</tspan><tspan x="-128" dy="7.76">DVSS_PLL</tspan><tspan x="-128" dy="7.76">AVDD_PLL</tspan><tspan x="-128" dy="7.76">AVSS_PLL</tspan><tspan x="-128" dy="7.76">VPL_HS</tspan><tspan x="-128" dy="7.76">VPL_VS</tspan><tspan x="-128" dy="7.76">DDC_SCL</tspan><tspan x="-128" dy="7.76">DDC_SDA</tspan><tspan x="-128" dy="7.76">VI_CHC_7</tspan><tspan x="-128" dy="7.76">VI_CHC_6</tspan><tspan x="-128" dy="7.76">VI_CHC_5</tspan><tspan x="-128" dy="7.76">VI_CHC_4</tspan><tspan x="-128" dy="7.76">VI_CHC_3</tspan><tspan x="-128" dy="7.76">VI_CHC_2</tspan><tspan x="-128" dy="7.76">VI_CHC_1</tspan><tspan x="-128" dy="7.76">VI_CHC_0</tspan><tspan x="-128" dy="7.76">VI_CHA_7</tspan><tspan x="-128" dy="7.76">VI_CHA_6</tspan><tspan x="-128" dy="7.76">VI_CHA_5</tspan><tspan x="-128" dy="7.76">VI_CHA_4</tspan><tspan x="-128" dy="7.76">VI_CHA_3</tspan><tspan x="-128" dy="7.76">VI_CHA_2</tspan><tspan x="-128" dy="7.76">VI_CHA_1</tspan></text>

<!-- bottom numbers -->
<text class="s" transform="rotate(-90)"><tspan x="-552" y="261.3">53</tspan><tspan x="-552" dy="7.8">54</tspan><tspan x="-552" dy="7.8">55</tspan><tspan x="-552" dy="7.8">56</tspan><tspan x="-552" dy="7.8">57</tspan><tspan x="-552" dy="7.8">58</tspan><tspan x="-552" dy="7.8">59</tspan><tspan x="-552" dy="7.8">60</tspan><tspan x="-552" dy="7.8">61</tspan><tspan x="-552" dy="7.8">62</tspan><tspan x="-552" dy="7.8">63</tspan><tspan x="-552" dy="7.8">64</tspan><tspan x="-552" dy="7.8">65</tspan><tspan x="-552" dy="7.8">66</tspan><tspan x="-552" dy="7.8">67</tspan><tspan x="-552" dy="7.8">68</tspan><tspan x="-552" dy="7.8">69</tspan><tspan x="-552" dy="7.8">70</tspan><tspan x="-552" dy="7.8">71</tspan><tspan x="-552" dy="7.8">72</tspan><tspan x="-552" dy="7.8">73</tspan><tspan x="-552" dy="7.8">74</tspan><tspan x="-552" dy="7.8">75</tspan><tspan x="-552" dy="7.8">76</tspan><tspan x="-552" dy="7.8">77</tspan><tspan x="-552" dy="7.8">78</tspan><tspan x="-552" dy="7.8">79</tspan><tspan x="-552" dy="7.8">80</tspan><tspan x="-552" dy="7.8">81</tspan><tspan x="-552" dy="7.8">82</tspan><tspan x="-552" dy="7.8">83</tspan><tspan x="-552" dy="7.8">84</tspan><tspan x="-552" dy="7.8">85</tspan><tspan x="-552" dy="7.8">86</tspan><tspan x="-552" dy="7.8">87</tspan><tspan x="-552" dy="7.8">88</tspan><tspan x="-552" dy="7.8">89</tspan><tspan x="-552" dy="7.8">90</tspan><tspan x="-552" dy="7.8">91</tspan><tspan x="-552" dy="7.8">92</tspan><tspan x="-552" dy="7.8">93</tspan><tspan x="-552" dy="7.8">94</tspan><tspan x="-552" dy="7.8">95</tspan><tspan x="-552" dy="7.8">96</tspan><tspan x="-552" dy="7.8">97</tspan><tspan x="-552" dy="7.8">98</tspan><tspan x="-552" dy="7.8">99</tspan><tspan x="-552" dy="7.8">100</tspan><tspan x="-552" dy="7.8">101</tspan><tspan x="-552" dy="7.8">102</tspan><tspan x="-552" dy="7.8">103</tspan><tspan x="-552" dy="7.8">104</tspan></text>
<!-- bottom labels -->
<text class="s" transform="rotate(-90)"><tspan x="-541" y="261.5">PVDDPLL</tspan><tspan x="-541" dy="7.8">PVSSPLL</tspan><tspan x="-541" dy="7.8">MD_18</tspan><tspan x="-541" dy="7.8">MD_19</tspan><tspan x="-541" dy="7.8">MD_20</tspan><tspan x="-541" dy="7.8">MD_21</tspan><tspan x="-541" dy="7.8">MD_22</tspan><tspan x="-541" dy="7.8">MD_23</tspan><tspan x="-541" dy="7.8">MDQM_3</tspan><tspan x="-541" dy="7.8">PVDDPLL</tspan><tspan x="-541" dy="7.8">VTE_ARRF</tspan><tspan x="-541" dy="7.8">VREF</tspan><tspan x="-541" dy="7.8">PVSSPLL</tspan><tspan x="-541" dy="7.8">MD_24</tspan><tspan x="-541" dy="7.8">MD_25</tspan><tspan x="-541" dy="7.8">MD_26</tspan><tspan x="-541" dy="7.8">MD_27</tspan><tspan x="-541" dy="7.8">MD_28</tspan><tspan x="-541" dy="7.8">MD_29</tspan><tspan x="-541" dy="7.8">MD_30</tspan><tspan x="-541" dy="7.8">PVDDPLL</tspan><tspan x="-541" dy="7.8">PVSSPLL</tspan><tspan x="-541" dy="7.8">MD_31</tspan><tspan x="-541" dy="7.8">MCLKF</tspan><tspan x="-541" dy="7.8">MCLK</tspan><tspan x="-541" dy="7.8">WE</tspan><tspan x="-541" dy="7.8">RAS</tspan><tspan x="-541" dy="7.8">CAS</tspan><tspan x="-541" dy="7.8">CKE</tspan><tspan x="-541" dy="7.8">DVSS</tspan><tspan x="-541" dy="7.8">DVDD</tspan><tspan x="-541" dy="7.8">PVDDPLL</tspan><tspan x="-541" dy="7.8">PVSSPLL</tspan><tspan x="-541" dy="7.8">MA_0</tspan><tspan x="-541" dy="7.8">MA_1</tspan><tspan x="-541" dy="7.8">MA_2</tspan><tspan x="-541" dy="7.8">MA_3</tspan><tspan x="-541" dy="7.8">MA_4</tspan><tspan x="-541" dy="7.8">MA_5</tspan><tspan x="-541" dy="7.8">MA_6</tspan><tspan x="-541" dy="7.8">PVDDPLL</tspan><tspan x="-541" dy="7.8">PVSSPLL</tspan><tspan x="-541" dy="7.8">MA_7</tspan><tspan x="-541" dy="7.8">MA_8</tspan><tspan x="-541" dy="7.8">MA_9</tspan><tspan x="-541" dy="7.8">MA_10</tspan><tspan x="-541" dy="7.8">MA_11</tspan><tspan x="-541" dy="7.8">MA_12</tspan><tspan x="-541" dy="7.8">MA_13</tspan><tspan x="-541" dy="7.8">BA_0</tspan><tspan x="-541" dy="7.8">PVDDPLL</tspan><tspan x="-541" dy="7.8">PVSSPLL</tspan></text>

<!-- bottom bus labels -->
<text class="s" transform="rotate(-90)"><tspan x="-605" y="279">MB18</tspan><tspan x="-605" y="287">MB19</tspan><tspan x="-605" y="294">MB20</tspan><tspan x="-605" y="302">MB21</tspan><tspan x="-605" y="310">MB22</tspan><tspan x="-605" y="317">MB23</tspan><tspan x="-605" y="372">MB24</tspan><tspan x="-605" y="380">MB25</tspan><tspan x="-605" y="387">MB26</tspan><tspan x="-605" y="395">MB27</tspan><tspan x="-605" y="403">MB28</tspan><tspan x="-605" y="411">MB29</tspan><tspan x="-605" y="418">MB30</tspan><tspan x="-605" y="440">MB31</tspan><tspan x="-610" y="526">MA00</tspan><tspan x="-610" y="534">MA01</tspan><tspan x="-610" y="541">MA02</tspan><tspan x="-610" y="549">MA03</tspan><tspan x="-610" y="557">MA04</tspan><tspan x="-610" y="564">MA05</tspan><tspan x="-610" y="572">MA06</tspan><tspan x="-610" y="595">MA07</tspan><tspan x="-610" y="603">MA08</tspan><tspan x="-610" y="610">MA09</tspan><tspan x="-610" y="618">MA10</tspan><tspan x="-610" y="626">MA11</tspan><tspan x="-610" y="634">MA12</tspan><tspan x="-610" y="641">MA13</tspan><tspan x="-606" y="449">MCLKF</tspan><tspan x="-606" y="457">MCLK</tspan><tspan x="-606" y="464">WE</tspan><tspan x="-606" y="472">RAS</tspan><tspan x="-606" y="480">CAS</tspan><tspan x="-606" y="488">CKE</tspan></text>
<text class="s" x="152" y="616">MB[0:31]</text>
<text class="s" x="638" y="620">MA[0:13]</text>

<!-- left labels -->
<g class="s">
<text x="147" y="327.8">MB00</text><text x="147" y="335.5">MB01</text><text x="147" y="343.3">MB02</text><text x="147" y="351">MB03</text><text x="147" y="358.8">MB04</text><text x="147" y="366.5">MB05</text><text x="147" y="374.2">MB06</text><text x="147" y="397.5">MB07</text><text x="147" y="412.9">MB08</text><text x="147" y="420.7">MB09</text><text x="147" y="428.4">MB10</text><text x="147" y="436.2">MB11</text><text x="147" y="443.9">MB12</text><text x="147" y="482.6">MB13</text><text x="147" y="490.3">MB14</text><text x="147" y="498.1">MB15</text><text x="147" y="521.3">MB16</text><text x="147" y="529">MB17</text>
<text x="125" y="296.5">MDQM0</text><text x="125" y="405">MDQM1</text><text x="125" y="505.5">MDQM2</text><text x="125" y="578.5">MDQM3</text>
<text x="190" y="137.5">A0</text><text x="190" y="145.2">A1</text><text x="190" y="153">A2</text><text x="190" y="160.7">A3</text><text x="190" y="168.5">A4</text><text x="190" y="176.2">A5</text><text x="190" y="183.9">A6</text><text x="190" y="191.7">A7</text>
<text x="189" y="222.6">ALE</text><text x="190" y="230.4">WR</text><text x="190" y="238.1">RD</text>
<text x="35" y="261.3">SDA</text><text x="35" y="269.1">SCL</text><text x="35" y="292.3">RST</text>
<text x="68" y="253">RM157</text><text x="70" y="257.5">100</text><text x="68" y="274.5">RM158</text><text x="70" y="280">100</text><text x="67" y="298">RM159</text><text x="70" y="303">100</text>
<text x="222" y="131">RM1</text><text x="221" y="134.5">33x4</text><text x="220" y="197">RM122 33x4</text><text x="220" y="211">CM115 100n</text><text x="203" y="251">RM90</text><text x="203" y="255">33x4</text>
<text x="223" y="263">RM150</text><text x="225" y="266.5">10K</text><text x="223" y="272">CM114</text><text x="226" y="281">100n</text><text x="224" y="311">100n</text><text x="224" y="320">CM113</text>
<text x="224" y="380">100n</text><text x="224" y="389">CM116</text><text x="224" y="450">100n</text><text x="224" y="459">CM108</text><text x="224" y="466">100n</text><text x="224" y="474">CM117</text>
<text x="177" y="535">CM88</text><text x="181" y="547">100n</text><text x="153" y="549">RM152</text><text x="155" y="553.5">10K</text><text x="191" y="563">CM90</text><text x="181" y="564.5">100n</text><text x="150" y="567">RM153</text><text x="155" y="572">10K</text>
<text x="36" y="59">SYN</text><text x="73" y="58">SVM</text><text x="79" y="70">QM51</text><text x="74" y="76">2SA1015</text>
<text x="143" y="24">RM246</text><text x="147" y="34">22R</text>
<text x="167" y="65">Y_HD</text><text x="166" y="90">PB_HD</text><text x="166" y="101">PR_HD</text>
<text x="232" y="59">RM141</text><text x="236" y="71">75</text><text x="229" y="79">RM142</text><text x="234" y="84">75</text><text x="245" y="96">RM143</text><text x="244" y="108">75</text>
<text x="230" y="36">+3.3VDI</text>
<text x="393" y="36">CM158</text><text x="418" y="35">RM144</text><text x="422" y="47">1.2k</text><text x="395" y="48">100n</text>
<text x="477" y="34">RM145</text><text x="498" y="34">CM147</text><text x="466" y="42">1.2k</text><text x="475" y="51">CM148</text><text x="484" y="63">RM149</text><text x="490" y="68">150</text>
<text x="690" y="45">+3.3VDI</text><text x="728" y="45">LM32</text><text x="744" y="43">2.2UH</text><text x="779" y="46">+3.3V</text>
<text x="746" y="100">LM33</text><text x="746" y="104">2.2UH</text><text x="887" y="56">+5VM</text>
<text x="697" y="153">C5</text><text x="697" y="160.5">C4</text><text x="697" y="168.2">C3</text><text x="697" y="175.9">C2</text><text x="697" y="183.6">C1</text><text x="697" y="191.3">C0</text>
<text x="706" y="199">656_7</text><text x="706" y="206.7">656_6</text><text x="706" y="214.4">656_5</text>
<text x="706" y="260.6">656_4</text><text x="706" y="268.3">656_3</text><text x="706" y="276">656_2</text><text x="706" y="283.7">656_1</text><text x="706" y="291.4">656_0</text>
<text x="706" y="299.1">AMCLK</text><text x="706" y="306.8">LRCK</text><text x="706" y="314.5">SDATA</text><text x="706" y="322.2">SCLK</text>
<text x="693" y="133">CM133 100n</text><text x="764" y="229">RM157</text><text x="768" y="236">75</text><text x="795" y="225">CM172</text><text x="798" y="238">100n</text><text x="867" y="223">13.5/27MHZ</text><text x="866" y="262">+1.8VD</text>
<text x="778" y="241">CM134</text><text x="787" y="246">18p</text><text x="778" y="272">CM133</text><text x="787" y="280">18p</text>
<text x="757" y="286">LH2</text><text x="758" y="289">10u/16V</text><text x="792" y="290">RM261</text><text x="796" y="302">470</text><text x="852" y="297">HDMI-L</text>
<text x="750" y="303">CM264</text><text x="790" y="322">DHGND</text><text x="792" y="327">RM262</text><text x="796" y="338">470</text><text x="852" y="333">HDMI-R</text><text x="750" y="339">CM265</text><text x="757" y="357">RH2</text><text x="790" y="358">DHGND</text><text x="808" y="364">DHGND</text>
<text x="688" y="325">RM151</text><text x="682" y="341">RM152</text><text x="711" y="340">RM161</text><text x="715" y="348">100</text><text x="734" y="349">HS2</text><text x="734" y="357">VS2</text><text x="718" y="356">CM131</text><text x="718" y="363">100n</text><text x="692" y="357">100</text><text x="690" y="362">RM162</text>
<text x="868" y="381">+3.3VA</text><text x="868" y="397">+1.8VD</text><text x="719" y="566">+3.3VDI</text><text x="805" y="571">+1.8VD</text>
<text x="741" y="402">CM129</text><text x="743" y="412">100n</text><text x="693" y="418">CM130</text><text x="693" y="424">100n</text><text x="750" y="433">CM128</text><text x="752" y="442">100n</text><text x="698" y="443">RM163</text><text x="699" y="450">560</text><text x="750" y="449">CM127</text><text x="752" y="457">100n</text><text x="785" y="464">CM126</text><text x="787" y="472">100n</text>
<text x="745" y="471">LM36</text><text x="741" y="484">EMI 100MHZ 100R</text><text x="785" y="480">CM125</text><text x="787" y="489">100n</text><text x="866" y="476">ROUT</text>
<text x="745" y="494">LM37</text><text x="741" y="508">EMI 100MHZ 100R</text><text x="785" y="503">CM124</text><text x="787" y="512">100n</text><text x="866" y="499">GOUT</text>
<text x="745" y="518">LM38</text><text x="741" y="531">EMI 100MHZ 100R</text><text x="866" y="522">BOUT</text>
</g>
<g class="s">
<text transform="translate(96,31) rotate(-90)">+5VM</text><text transform="translate(94,51) rotate(-90)">2.2K</text><text transform="translate(108,53) rotate(-90)">RM140</text><text transform="translate(117,88) rotate(-90)">CM83</text><text transform="translate(127,84) rotate(-90)">1u</text>
<text transform="translate(255,58) rotate(-90)">RM150 10K</text><text transform="translate(276,58) rotate(-90)">RM151 10K</text>
<text transform="translate(305,44) rotate(-90)">B_PC</text><text transform="translate(336,44) rotate(-90)">G_PC</text><text transform="translate(367,44) rotate(-90)">R_PC</text>
<text transform="translate(537,43) rotate(-90)">HS_PC</text><text transform="translate(545,43) rotate(-90)">VS_PC</text><text transform="translate(560,43) rotate(-90)">DDB_VS</text><text transform="translate(568,43) rotate(-90)">DDB_HS</text>
<text transform="translate(584,101) rotate(-90)">B7</text><text transform="translate(591.5,101) rotate(-90)">B6</text><text transform="translate(599,101) rotate(-90)">B5</text><text transform="translate(607,101) rotate(-90)">B4</text><text transform="translate(615,101) rotate(-90)">B3</text><text transform="translate(622.5,101) rotate(-90)">B2</text><text transform="translate(630,101) rotate(-90)">B1</text><text transform="translate(638,101) rotate(-90)">B0</text><text transform="translate(646,101) rotate(-90)">G7</text><text transform="translate(654,101) rotate(-90)">G6</text>
<text transform="translate(471,80) rotate(-90)">+1.8VD</text><text transform="translate(772,82) rotate(-90)">+1.8V</text>
<text transform="translate(287,90) rotate(-90)">CM156</text><text transform="translate(295,88) rotate(-90)">100n</text><text transform="translate(318,90) rotate(-90)">RM147</text><text transform="translate(326,88) rotate(-90)">75</text><text transform="translate(349,90) rotate(-90)">CM161</text><text transform="translate(357,88) rotate(-90)">100n</text><text transform="translate(380,90) rotate(-90)">RM148</text><text transform="translate(388,88) rotate(-90)">CM162</text><text transform="translate(411,90) rotate(-90)">CM150</text><text transform="translate(419,88) rotate(-90)">100n</text><text transform="translate(434,90) rotate(-90)">CM151</text><text transform="translate(442,88) rotate(-90)">47n</text><text transform="translate(497,90) rotate(-90)">CM160</text><text transform="translate(505,88) rotate(-90)">100n</text>
<text transform="translate(301,114) rotate(-90)">CM158</text><text transform="translate(308,112) rotate(-90)">47n</text><text transform="translate(332,114) rotate(-90)">CM164</text><text transform="translate(339,112) rotate(-90)">47n</text><text transform="translate(363,114) rotate(-90)">CM163</text><text transform="translate(370,112) rotate(-90)">47n</text><text transform="translate(394,114) rotate(-90)">CM153</text><text transform="translate(402,112) rotate(-90)">100n</text><text transform="translate(441,114) rotate(-90)">CM159</text><text transform="translate(480,114) rotate(-90)">CM157</text>
<text transform="translate(651,66) rotate(-90)">CM145</text><text transform="translate(673,68) rotate(-90)">100u/16V</text><text transform="translate(745,128) rotate(-90)">CM136</text><text transform="translate(776,128) rotate(-90)">CM144</text><text transform="translate(795,143) rotate(-90)">LM15</text><text transform="translate(777,150) rotate(-90)">2.2UH</text>
<text transform="translate(869,80) rotate(-90)">CM52</text><text transform="translate(882,80) rotate(-90)">CM51</text><text transform="translate(869,128) rotate(-90)">CM50</text><text transform="translate(879,128) rotate(-90)">CM49</text><text transform="translate(895,128) rotate(-90)">CM48</text><text transform="translate(853,128) rotate(-90)">CM146</text>
<text transform="translate(784,181) rotate(-90)">CM131</text><text transform="translate(842,181) rotate(-90)">CM158</text><text transform="translate(844,244) rotate(-90)">CM165</text><text transform="translate(850,240) rotate(-90)">22u</text>
<text transform="translate(754,266) rotate(-90)">RM160</text><text transform="translate(776,268) rotate(-90)">XM3</text><text transform="translate(778,314) rotate(-90)">RM259</text><text transform="translate(778,350) rotate(-90)">RM260</text><text transform="translate(821,316) rotate(-90)">CM266</text><text transform="translate(821,352) rotate(-90)">CM267</text>
<text transform="translate(686,546) rotate(-90)">RM164</text><text transform="translate(711,546) rotate(-90)">RM165</text><text transform="translate(736,546) rotate(-90)">RM166</text><text transform="translate(694,542) rotate(-90)">75</text><text transform="translate(719,542) rotate(-90)">75</text><text transform="translate(744,542) rotate(-90)">75</text>
<text transform="translate(733,298) rotate(-90)">+3.3VDI</text><text transform="translate(119,585) rotate(-90)">MDQM0-3</text>
</g>
<text transform="translate(182,200) rotate(-90)" style="font-size:4.5px;fill:#222">From MCU</text>
<path d="M190 140q-3 0-3 5v40q0 5-3 5q3 0 3 5v45q0 5 3 5" fill="none" stroke="#444" stroke-width=".6"/>

<!-- chip labels -->
<text x="462" y="296.5" text-anchor="middle" style="font-size:9.8px;fill:#111">ICM10</text>
<text x="462" y="317" text-anchor="middle" style="font-size:11px;fill:#111">CF1080C</text>
<text x="423" y="344" style="font-family:'Liberation Serif','Noto Serif CJK SC',serif;font-size:11.3px;fill:#3c3cc8">图像信号处理器</text>

<!-- pink annotations -->
<text class="pk" x="128" y="65">高清信号</text>
<path d="M162.5 55V102" stroke="#e33" stroke-width="1"/>
<text class="pk" x="305" y="33">VGA信号</text>
<path d="M305 35.5H372" stroke="#e33" stroke-width="1"/>
<text class="pk" x="521" y="28">VGA信号</text>
<text class="pk" x="662" y="104">HDMI输入</text><text class="pk" x="662" y="113">B信号</text>
<text class="pk" x="706" y="159">HDMI输入</text><text class="pk" x="706" y="168">G信号</text>
<text class="pk" x="725" y="201">解码器输入信号</text><text class="pk" x="725" y="210">或HDMI输入B信号</text>
<path d="M722 197V295" stroke="#e33" stroke-width="1.2" stroke-dasharray="9 3"/>
<text class="pk" x="139" y="233">连接到ICM01</text>
<text class="pk" x="831" y="313">HDMI音频输出ICM704</text>
<path d="M743 345V374H763" stroke="#e33" stroke-width="1" fill="none"/>
<path d="M762 371l5 3-5 3" stroke="#e33" stroke-width="1" fill="none"/>
<text class="pk" x="768" y="377">输出到显示信号处理器</text>
<path d="M830 487H869M865 484l4 3-4 3" stroke="#e33" stroke-width="1" fill="none"/>
<g class="pk" text-anchor="middle">
<text x="881" y="466">输</text><text x="881" y="475.2">出</text><text x="881" y="484.4">到</text><text x="881" y="493.6">显</text><text x="881" y="502.8">示</text><text x="881" y="512">信</text><text x="881" y="521.2">号</text><text x="881" y="530.4">处</text><text x="881" y="539.6">理</text><text x="881" y="548.8">器</text>
</g>
<text class="pk" x="178" y="623">连接到帧存储器ICM03</text>
</svg>
</body></html>
